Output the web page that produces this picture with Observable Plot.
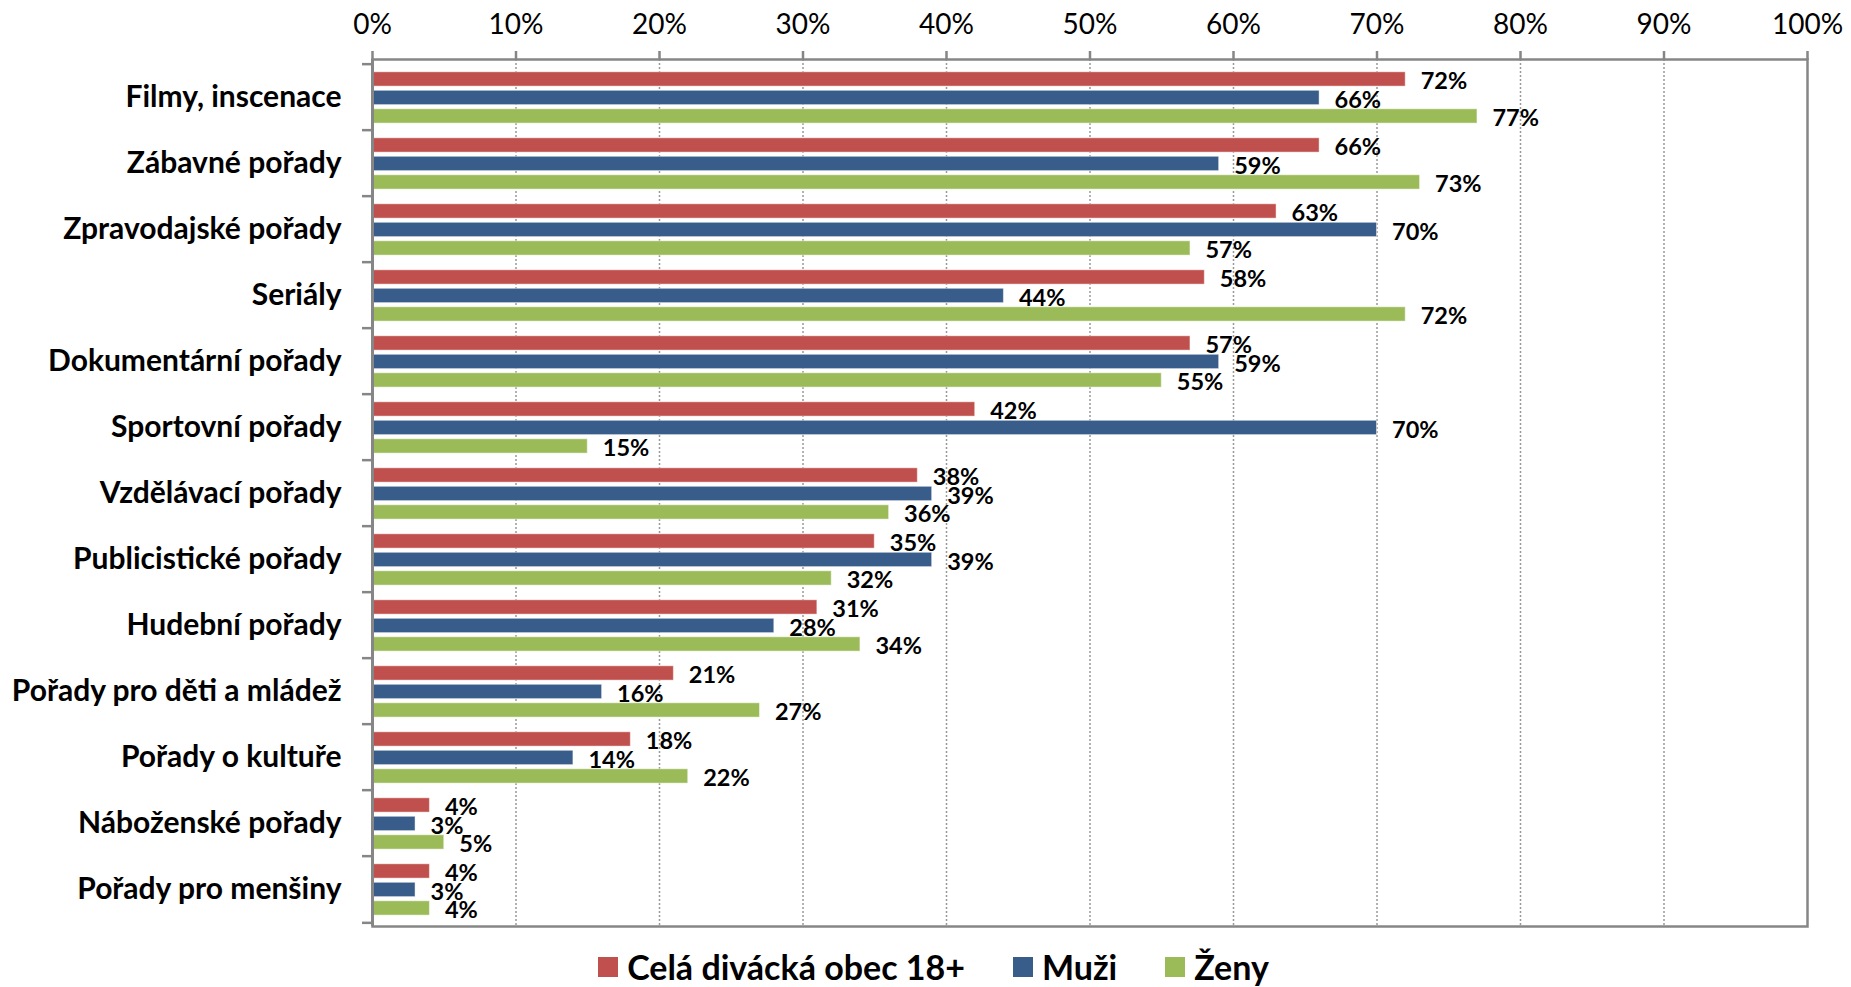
<!DOCTYPE html>
<html>
<head>
<meta charset="utf-8">
<script src="https://cdn.jsdelivr.net/npm/d3@7"></script>
<script src="https://cdn.jsdelivr.net/npm/@observablehq/plot@0.6"></script>
<style>
  html, body { margin: 0; padding: 0; background: #fff; }
  #chart { width: 1851px; font-family: Lato, "Open Sans", sans-serif; }
  #legend { display: flex; justify-content: center; margin-top: 10px; padding-left: 64px; }
  .lg-swatches { font-family: Lato, sans-serif !important; font-size: 34px !important; font-weight: bold; color: #000; }
  .lg-swatch { margin-right: 48px !important; }
  .lg-swatch > svg { margin-right: 9px !important; }
</style>
</head>
<body>
<div id="chart"></div>
<div id="legend"></div>
<script>
// ---- data ----
const categories = [
  "Filmy, inscenace", "Zábavné pořady", "Zpravodajské pořady", "Seriály",
  "Dokumentární pořady", "Sportovní pořady", "Vzdělávací pořady",
  "Publicistické pořady", "Hudební pořady", "Pořady pro děti a mládež",
  "Pořady o kultuře", "Náboženské pořady", "Pořady pro menšiny"
];
const series = ["Celá divácká obec 18+", "Muži", "Ženy"];
const celaValues = [72, 66, 63, 58, 57, 42, 38, 35, 31, 21, 18, 4, 4];
const muziValues = [66, 59, 70, 44, 59, 70, 39, 39, 28, 16, 14, 3, 3];
const zenyValues = [77, 73, 57, 72, 55, 15, 36, 32, 34, 27, 22, 5, 4];
const xTicks = [0, 10, 20, 30, 40, 50, 60, 70, 80, 90, 100];
const colors = ["#C0504D", "#385D8A", "#9BBB59"];

// ---- table ----
const seriesValues = [celaValues, muziValues, zenyValues];
const table = series.map((s, si) => categories.map((c, ci) => ({category: c, series: s, value: seriesValues[si][ci]})));

// ---- layout ----
const W = 1851, H = 936, mT = 59, mB = 10, mL = 372, mR = 44;
const bw = (H - mT - mB) / categories.length;
const barH = 15;
const barTop = [7.8, 26.3, 44.8];          // offset of each series' bar inside its band
const labelDy = [-16, 2.5, 21];            // label offset from band centre
const gray = "#868686";

const barMarks = series.map((s, i) => Plot.barX(table[i], {
  x: "value", y: "category",
  fill: colors[i],
  insetTop: barTop[i], insetBottom: bw - barTop[i] - barH,
  stroke: "#fff", strokeOpacity: 0.45, strokeWidth: 1
}));
const labelMarks = series.map((s, i) => Plot.text(table[i], {
  x: "value", y: "category", text: d => d.value + "%",
  dx: 15, dy: labelDy[i], textAnchor: "start",
  fontSize: 23.5, fontWeight: "bold", fill: "#000"
}));

const chart = Plot.plot({
  width: W, height: H,
  marginTop: mT, marginBottom: mB, marginLeft: mL, marginRight: mR,
  style: {fontFamily: "Lato, 'Open Sans', sans-serif", background: "#fff", color: "#000"},
  x: {domain: [0, 100]},
  y: {domain: categories, padding: 0, axis: null},
  marks: [
    Plot.gridX({ticks: xTicks.slice(1, -1), stroke: "#999", strokeOpacity: 1, strokeWidth: 1.5, strokeDasharray: "2 2"}),
    ...barMarks,
    Plot.frame({stroke: gray, strokeWidth: 2.5}),
    Plot.ruleX([0], {stroke: gray, strokeWidth: 3}),
    Plot.ruleY(categories, {y: d => d, x1: 0, x2: 0, insetLeft: -10, dy: -bw / 2, stroke: gray, strokeWidth: 2.5}),
    Plot.ruleY(categories.slice(-1), {y: d => d, x1: 0, x2: 0, insetLeft: -10, dy: bw / 2, stroke: gray, strokeWidth: 2.5}),
    Plot.axisX({anchor: "top", ticks: xTicks, tickSize: 9, tickPadding: 17,
      tickFormat: d => d + "%", fontSize: 28, stroke: gray, strokeWidth: 2.5, fill: "#000", label: null}),
    Plot.text(categories, {y: d => d, frameAnchor: "left", textAnchor: "end", dx: -31,
      fontSize: 30, fontWeight: "bold", fill: "#000"}),
    ...labelMarks
  ]
});
document.getElementById("chart").appendChild(chart);

const legend = Plot.legend({
  color: {type: "ordinal", domain: series, range: colors},
  legend: "swatches", swatchSize: 20, className: "lg"
});
document.getElementById("legend").appendChild(legend);
</script>
</body>
</html>
